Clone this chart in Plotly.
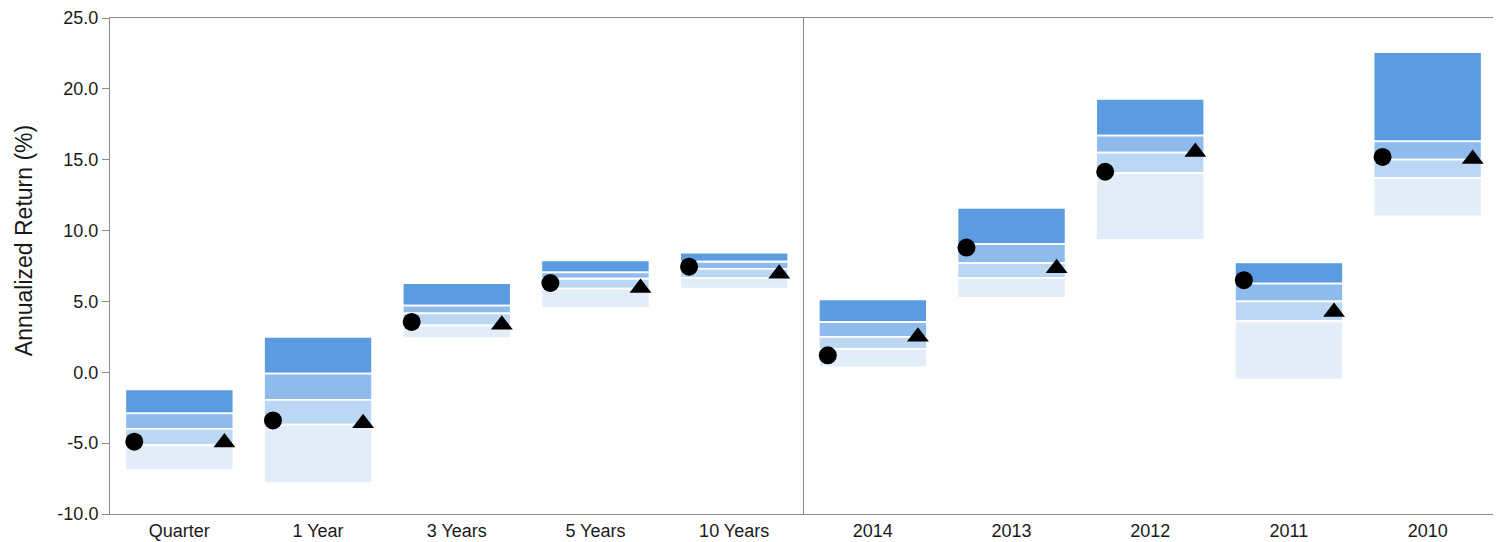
import plotly.graph_objects as go

categories = ["Quarter", "1 Year", "3 Years", "5 Years", "10 Years",
              "2014", "2013", "2012", "2011", "2010"]

# Percentile boundaries of the peer-group ranges (top -> bottom)
p05 = [-1.2, 2.5, 6.3, 7.9, 8.45, 5.15, 11.6, 19.3, 7.75, 22.6]
p25 = [-2.9, -0.1, 4.7, 7.05, 7.8, 3.55, 9.05, 16.7, 6.25, 16.3]
p50 = [-4.0, -1.95, 4.15, 6.6, 7.3, 2.5, 7.7, 15.5, 5.0, 15.0]
p75 = [-5.15, -3.7, 3.3, 5.9, 6.65, 1.65, 6.65, 14.05, 3.6, 13.7]
p95 = [-6.9, -7.8, 2.4, 4.55, 5.9, 0.35, 5.25, 9.35, -0.5, 11.0]

fund = [-4.9, -3.4, 3.55, 6.3, 7.45, 1.2, 8.8, 14.15, 6.5, 15.2]
benchmark = [-4.95, -3.6, 3.35, 5.95, 6.95, 2.5, 7.35, 15.55, 4.25, 15.05]

y_tickvals = [-10, -5, 0, 5, 10, 15, 20, 25]
y_ticktext = ["-10.0", "-5.0", "0.0", "5.0", "10.0", "15.0", "20.0", "25.0"]

quartile_colors = ["#5b9be0", "#8ebbec", "#bcd7f3", "#e3edf9"]

FONT = "Liberation Sans, Arial, sans-serif"
GRAY = "#8a8a8a"
TXT = "#1a1a1a"

xs = list(range(len(categories)))
bounds = [p05, p25, p50, p75, p95]

fig = go.Figure()
for q in range(4):
    upper = bounds[q]
    lower = bounds[q + 1]
    fig.add_trace(go.Bar(
        x=xs,
        base=lower,
        y=[u - l for u, l in zip(upper, lower)],
        width=0.78,
        marker=dict(color=quartile_colors[q], line=dict(color="white", width=1.8)),
        showlegend=False,
        hoverinfo="skip",
    ))

fig.add_trace(go.Scatter(
    x=[i - 0.325 for i in xs], y=fund, mode="markers",
    marker=dict(symbol="circle", size=18, color="black"),
    showlegend=False,
))
fig.add_trace(go.Scatter(
    x=[i + 0.325 for i in xs], y=benchmark, mode="markers",
    marker=dict(symbol="triangle-up", size=19, color="black"),
    showlegend=False,
))

fig.add_shape(type="line", xref="x", yref="paper", x0=4.5, x1=4.5, y0=0, y1=1,
              line=dict(color=GRAY, width=1))

fig.add_annotation(
    text="Annualized Return (%)", textangle=-90,
    xref="paper", yref="paper", x=-0.062, y=0.55,
    xanchor="center", yanchor="middle", showarrow=False,
    font=dict(family=FONT, size=23, color=TXT),
)

# The page body has an 8px default margin; size the figure to fit the window.
fig.update_layout(
    template="none",
    width=1493, height=534,
    margin=dict(l=102, r=4, t=10, b=28, autoexpand=False),
    paper_bgcolor="white", plot_bgcolor="white",
    barmode="overlay",
    showlegend=False,
    font=dict(family=FONT, size=18, color=TXT),
    xaxis=dict(
        range=[-0.5, 9.5], tickvals=xs, ticktext=categories,
        showline=True, mirror=True, linecolor=GRAY, linewidth=1,
        showgrid=False, zeroline=False, ticks="", automargin=False,
        tickfont=dict(family=FONT, size=18, color=TXT),
    ),
    yaxis=dict(
        range=[-10, 25], tickvals=y_tickvals, ticktext=y_ticktext,
        showline=True, mirror=True, linecolor=GRAY, linewidth=1,
        showgrid=False, zeroline=False, automargin=False,
        ticks="outside", ticklen=7, tickcolor=GRAY,
        tickfont=dict(family=FONT, size=18, color=TXT),
    ),
)

fig.write_html("out.html")
